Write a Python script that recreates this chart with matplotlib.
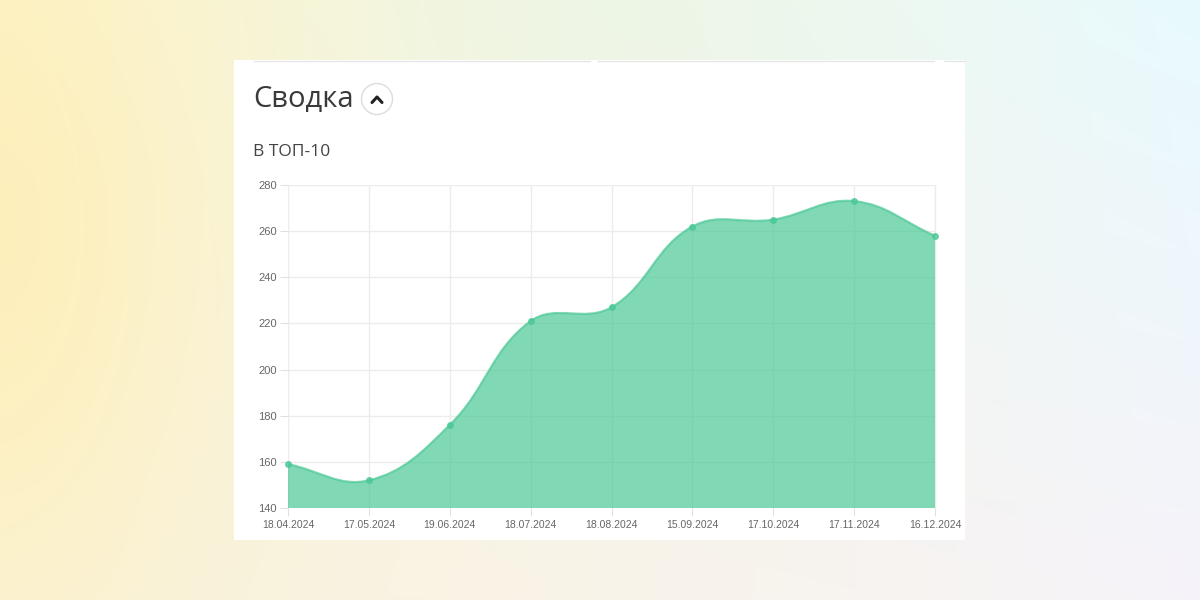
import numpy as np
import matplotlib.pyplot as plt
from matplotlib.path import Path
from matplotlib.patches import PathPatch, Rectangle, Circle
from matplotlib.lines import Line2D

# data
dates = ['18.04.2024', '17.05.2024', '19.06.2024', '18.07.2024', '18.08.2024',
         '15.09.2024', '17.10.2024', '17.11.2024', '16.12.2024']
top10 = [159, 152, 176, 221, 227, 262, 265, 273, 258]
y_ticks = [140, 160, 180, 200, 220, 240, 260, 280]

title = 'Сводка'
subtitle = 'В ТОП-10'

fill_col = (75/255, 200/255, 150/255)
grid_col = '#ececec'
tick_col = '#666666'

fig = plt.figure(figsize=(12, 6), dpi=100)

# background gradient + card, in pixel coords
bg = fig.add_axes([0, 0, 1, 1])
bg.set_xlim(0, 1200)
bg.set_ylim(600, 0)
bg.axis('off')

gx, gy = np.meshgrid(np.linspace(0, 1, 1200), np.linspace(0, 1, 600))
tl = np.array([252, 244, 205]) / 255
tr = np.array([232, 250, 254]) / 255
bl = np.array([250, 243, 215]) / 255
br = np.array([246, 243, 250]) / 255
img = ((1 - gx)[..., None] * (1 - gy)[..., None] * tl + gx[..., None] * (1 - gy)[..., None] * tr
       + (1 - gx)[..., None] * gy[..., None] * bl + gx[..., None] * gy[..., None] * br)
# yellow glow on the left, soft greenish tint at top middle
yel = np.exp(-(gx / 0.16) ** 2 - ((gy - 0.4) / 0.6) ** 2)[..., None]
img = img * (1 - 0.7 * yel) + 0.7 * yel * np.array([255, 238, 180]) / 255
mid = np.exp(-((gx - 0.5) / 0.2) ** 2 - (gy / 0.3) ** 2)[..., None]
img = img * (1 - 0.3 * mid) + 0.3 * mid * np.array([228, 242, 228]) / 255
bg.imshow(np.clip(img, 0, 1), extent=[0, 1200, 600, 0], aspect='auto',
          interpolation='bilinear', zorder=0)

bg.add_patch(Rectangle((234, 60), 731, 480, facecolor='white', edgecolor='none', zorder=1))
# bottoms of the boxes above the card
for x0, x1 in [(254, 590), (598, 934), (944, 965)]:
    bg.add_line(Line2D([x0, x1], [61, 61], color='#e6e6e6', lw=1, zorder=2))

bg.text(253, 100, title, fontsize=21, family='Open Sans', color='#3a3a3a',
        va='center', ha='left', zorder=3)
bg.add_patch(Circle((377, 99), 15.5, facecolor='white', edgecolor='#dcdcdc', lw=1, zorder=3))
bg.add_line(Line2D([372, 377, 382], [102.5, 97, 102.5], color='#222222', lw=2.2,
                   solid_capstyle='round', solid_joinstyle='round', zorder=4))
bg.text(253, 152, subtitle, fontsize=12.5, family='Open Sans', color='#444444',
        va='center', ha='left', zorder=3)

# chart area
ax = fig.add_axes([288 / 1200, 1 - 508 / 600, (935 - 288) / 1200, (508 - 185) / 600])
ax.set_facecolor('none')
x = np.arange(len(dates))
ax.set_xlim(x[0], x[-1])
ax.set_ylim(y_ticks[0], y_ticks[-1])
ax.set_xticks(x)
ax.set_xticklabels(dates)
ax.set_yticks(y_ticks)
ax.grid(True, color=grid_col, lw=1)
ax.set_axisbelow(True)
for s in ax.spines.values():
    s.set_visible(False)
ax.tick_params(axis='both', length=6, color='#e0e0e0', labelcolor=tick_col)
ax.tick_params(axis='x', labelsize=7.5, pad=3)
ax.tick_params(axis='y', labelsize=8, pad=2)
for lab in ax.get_xticklabels() + ax.get_yticklabels():
    lab.set_family('Liberation Sans')
ax.add_line(Line2D([x[-1], x[-1]], [y_ticks[0], y_ticks[-1]], color=grid_col, lw=1, clip_on=False))

# Chart.js style spline (tension 0.4), control points in display space
t = 0.4
pts = ax.transData.transform(np.column_stack([x, top10]))
n = len(pts)
cp_prev = np.zeros_like(pts)
cp_next = np.zeros_like(pts)
for i in range(n):
    cur = pts[i]
    prv = pts[i - 1] if i > 0 else cur
    nxt = pts[i + 1] if i < n - 1 else cur
    d01 = np.hypot(*(cur - prv))
    d12 = np.hypot(*(nxt - cur))
    tot = d01 + d12
    s01 = d01 / tot if tot else 0
    s12 = d12 / tot if tot else 0
    cp_prev[i] = cur - t * s01 * (nxt - prv)
    cp_next[i] = cur + t * s12 * (nxt - prv)
inv = ax.transData.inverted()
cp_prev = inv.transform(cp_prev)
cp_next = inv.transform(cp_next)

verts = [(x[0], top10[0])]
codes = [Path.MOVETO]
for i in range(n - 1):
    verts += [tuple(cp_next[i]), tuple(cp_prev[i + 1]), (x[i + 1], top10[i + 1])]
    codes += [Path.CURVE4] * 3
line_path = Path(verts, codes)
area_path = Path(verts + [(x[-1], y_ticks[0]), (x[0], y_ticks[0]), (x[0], top10[0])],
                 codes + [Path.LINETO, Path.LINETO, Path.CLOSEPOLY])

ax.add_patch(PathPatch(area_path, facecolor=fill_col, alpha=0.7, edgecolor='none', zorder=2))
ax.add_patch(PathPatch(line_path, facecolor='none', edgecolor=fill_col, alpha=0.7, lw=1.6, zorder=3))
ax.plot(x, top10, 'o', ms=4, color=fill_col, alpha=0.8, zorder=4, clip_on=False)

fig.savefig('out.png', dpi=100)
